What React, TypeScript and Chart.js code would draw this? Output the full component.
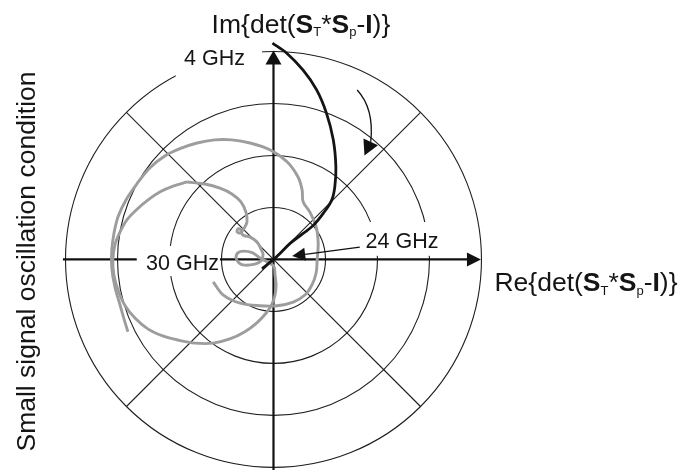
import React, { useEffect, useRef } from "react";
import { Chart, registerables } from "chart.js";

Chart.register(...registerables);

// Polar grid: rings of |det| and the diagonal guide lines
const RING_VALUES = [1, 2, 3, 4];
const SPOKE_ANGLES_DEG = [45, 135, 225, 315];

// det(S_T*S_p - I), 4 GHz down to just past 24 GHz
const BLACK_RE = [-0.02, 0.25, 0.57, 0.83, 1.02, 1.15, 1.2, 1.18, 1.12, 0.96, 0.77, 0.57, 0.32, 0.13, 0.0, -0.22];
const BLACK_IM = [4.16, 3.97, 3.64, 3.26, 2.81, 2.3, 1.78, 1.4, 1.14, 0.89, 0.66, 0.5, 0.31, 0.12, 0.0, -0.18];

// Grey trace, outer sweep
const GRAY_OUTER_RE = [
  -2.8, -2.88, -2.95, -3.05, -3.11, -3.11, -3.07, -2.99, -2.84, -2.63, -2.38, -2.09, -1.8, -1.47, -1.13,
  -0.8, -0.45, -0.07, 0.26, 0.47, 0.55, 0.57, 0.7, 0.82, 0.86, 0.84, 0.82, 0.74, 0.61, 0.38, 0.07, -0.26,
  -0.64, -0.97, -1.16,
];
const GRAY_OUTER_IM = [
  -1.39, -1.13, -0.88, -0.53, -0.16, 0.18, 0.49, 0.82, 1.14, 1.45, 1.76, 1.99, 2.13, 2.24, 2.3,
  2.3, 2.24, 2.11, 1.88, 1.59, 1.34, 1.11, 0.91, 0.63, 0.32, -0.01, -0.26, -0.49, -0.68, -0.82, -0.89, -0.89,
  -0.84, -0.68, -0.43,
];

// Grey trace, inner loop with the small curls near the origin
const GRAY_INNER_RE = [
  -1.66, -1.32, -1.03, -0.8, -0.63, -0.53, -0.51, -0.57, -0.64, -0.7, -0.68, -0.63, -0.59, -0.45, -0.32,
  -0.24, -0.2, -0.24, -0.36, -0.55, -0.66, -0.72, -0.68, -0.57, -0.41, -0.26, -0.11, 0.01, 0.03, 0.05,
  0.03, -0.03, -0.14, -0.32, -0.55, -0.84, -1.16, -1.51, -1.84, -2.13, -2.41, -2.66, -2.86, -2.99, -3.07,
  -3.09, -3.05, -2.95, -2.82, -2.64, -2.43, -2.18, -1.93, -1.66,
];
const GRAY_INNER_IM = [
  1.49, 1.45, 1.37, 1.26, 1.11, 0.91, 0.72, 0.59, 0.51, 0.53, 0.59, 0.57, 0.47, 0.43, 0.34,
  0.2, 0.09, -0.03, -0.09, -0.11, -0.07, 0.03, 0.13, 0.16, 0.13, 0.03, -0.05, -0.14, -0.3, -0.49,
  -0.68, -0.86, -1.03, -1.22, -1.39, -1.53, -1.61, -1.61, -1.55, -1.47, -1.34, -1.13, -0.88, -0.59, -0.3,
  -0.01, 0.28, 0.53, 0.76, 0.95, 1.13, 1.3, 1.41, 1.49,
];

// Text
const FREQ_LABELS = ["4 GHz", "24 GHz", "30 GHz"];
const SIDE_TITLE = "Small signal oscillation condition";
const IM_LABEL: [string, string][] = [
  ["Im{det(", "n"], ["S", "b"], ["T", "sub"], ["*", "n"], ["S", "b"], ["p", "sub"], ["-", "n"], ["I", "b"], [")}", "n"],
];
const RE_LABEL: [string, string][] = [
  ["Re{det(", "n"], ["S", "b"], ["T", "sub"], ["*", "n"], ["S", "b"], ["p", "sub"], ["-", "n"], ["I", "b"], [")}", "n"],
];

const FAMILY = '"Liberation Sans", Arial, Helvetica, sans-serif';

function drawRich(ctx: CanvasRenderingContext2D, parts: [string, string][], x: number, y: number, size: number) {
  let cx = x;
  for (const [t, s] of parts) {
    let dy = 0;
    if (s === "b") ctx.font = `bold ${size}px ${FAMILY}`;
    else if (s === "sub") {
      ctx.font = `${Math.round(size * 0.5)}px ${FAMILY}`;
      dy = size * 0.13;
    } else ctx.font = `${size}px ${FAMILY}`;
    ctx.fillText(t, cx, y + dy);
    cx += ctx.measureText(t).width;
  }
}

function arrowHead(ctx: CanvasRenderingContext2D, tipX: number, tipY: number, dirX: number, dirY: number, len: number, half: number) {
  const d = Math.hypot(dirX, dirY) || 1;
  const ux = dirX / d, uy = dirY / d;
  const bx = tipX - ux * len, by = tipY - uy * len;
  ctx.beginPath();
  ctx.moveTo(tipX, tipY);
  ctx.lineTo(bx - uy * half, by + ux * half);
  ctx.lineTo(bx + uy * half, by - ux * half);
  ctx.closePath();
  ctx.fill();
  return [bx, by];
}

const polarDecor = {
  id: "polarDecor",
  beforeDatasetsDraw(chart: any, _args: any, opts: any) {
    const { ctx } = chart;
    const xs = chart.scales.x, ys = chart.scales.y;
    const px = (v: number) => xs.getPixelForValue(v);
    const py = (v: number) => ys.getPixelForValue(v);
    const cx = px(0), cy = py(0);
    const ux = px(1) - cx, uy = cy - py(1);
    const rMax = Math.max(...RING_VALUES);

    ctx.save();
    ctx.strokeStyle = opts.gridColor;
    ctx.lineWidth = 1.1;
    for (const r of RING_VALUES) {
      ctx.beginPath();
      ctx.ellipse(cx, cy, r * ux, r * uy, 0, 0, Math.PI * 2);
      ctx.stroke();
    }
    for (const a of SPOKE_ANGLES_DEG) {
      const t = (a * Math.PI) / 180;
      ctx.beginPath();
      ctx.moveTo(cx, cy);
      ctx.lineTo(px(rMax * Math.cos(t)), py(rMax * Math.sin(t)));
      ctx.stroke();
    }

    // Re and Im axes with arrow heads
    ctx.strokeStyle = opts.axisColor;
    ctx.fillStyle = opts.axisColor;
    ctx.lineWidth = 2.2;
    const [reFrom, reTo] = opts.reAxis;
    const [imFrom, imTo] = opts.imAxis;
    const [hbx] = arrowHead(ctx, px(reTo), cy, 1, 0, 14, 7);
    ctx.beginPath();
    ctx.moveTo(px(reFrom), cy);
    ctx.lineTo(hbx + 1, cy);
    ctx.stroke();
    const [, vby] = arrowHead(ctx, cx, py(imTo), 0, -1, 14, 8);
    ctx.beginPath();
    ctx.moveTo(cx, py(imFrom));
    ctx.lineTo(cx, vby - 1);
    ctx.stroke();

    // white boxes behind the frequency labels
    ctx.fillStyle = "#ffffff";
    for (const b of opts.labelBoxes) {
      const x0 = px(b[0]), x1 = px(b[1]), y0 = py(b[2]), y1 = py(b[3]);
      ctx.fillRect(Math.min(x0, x1), Math.min(y0, y1), Math.abs(x1 - x0), Math.abs(y1 - y0));
    }

    ctx.fillStyle = opts.textColor;
    ctx.textBaseline = "alphabetic";
    ctx.textAlign = "left";
    ctx.font = `${opts.freqFontSize}px ${FAMILY}`;
    FREQ_LABELS.forEach((t, i) => {
      const [lx, ly] = opts.freqAnchors[i];
      ctx.fillText(t, px(lx), py(ly));
    });

    drawRich(ctx, IM_LABEL, px(opts.imLabel[0]), py(opts.imLabel[1]), opts.axisFontSize);
    drawRich(ctx, RE_LABEL, px(opts.reLabel[0]), py(opts.reLabel[1]), opts.axisFontSize);

    ctx.save();
    ctx.translate(px(opts.sideTitle[0]), py(opts.sideTitle[1]));
    ctx.rotate(-Math.PI / 2);
    ctx.textAlign = "center";
    ctx.font = `${opts.sideFontSize}px ${FAMILY}`;
    ctx.fillText(SIDE_TITLE, 0, 0);
    ctx.restore();

    ctx.restore();
  },
  afterDatasetsDraw(chart: any, _args: any, opts: any) {
    const { ctx } = chart;
    const xs = chart.scales.x, ys = chart.scales.y;
    const px = (v: number) => xs.getPixelForValue(v);
    const py = (v: number) => ys.getPixelForValue(v);
    ctx.save();
    ctx.strokeStyle = opts.axisColor;
    ctx.fillStyle = opts.axisColor;
    ctx.lineWidth = 1.3;

    // sweep-direction arrow
    const c = opts.sweepArrow;
    ctx.beginPath();
    ctx.moveTo(px(c.start[0]), py(c.start[1]));
    ctx.quadraticCurveTo(px(c.ctrl[0]), py(c.ctrl[1]), px(c.end[0]), py(c.end[1]));
    ctx.stroke();
    const tx = px(c.tip[0]), ty = py(c.tip[1]);
    const ex = px(c.end[0]), ey = py(c.end[1]);
    arrowHead(ctx, tx, ty, tx - ex, ty - ey, Math.hypot(tx - ex, ty - ey), 8);

    // pointer from the 24 GHz label
    const p = opts.pointer;
    const sx = px(p.from[0]), sy = py(p.from[1]);
    const qx = px(p.tip[0]), qy = py(p.tip[1]);
    const [bx, by] = arrowHead(ctx, qx, qy, qx - sx, qy - sy, 13, 6.5);
    ctx.beginPath();
    ctx.moveTo(sx, sy);
    ctx.lineTo(bx, by);
    ctx.stroke();
    ctx.restore();
  },
};

export default function App() {
  const canvasRef = useRef<HTMLCanvasElement | null>(null);

  useEffect(() => {
    if (!canvasRef.current) return;
    const toPoints = (re: number[], im: number[]) => re.map((x, i) => ({ x, y: im[i] }));
    const chart = new Chart(canvasRef.current, {
      type: "scatter",
      data: {
        datasets: [
          {
            label: "4–24 GHz",
            data: toPoints(BLACK_RE, BLACK_IM),
            showLine: true,
            borderColor: "#141414",
            borderWidth: 2.8,
            pointRadius: 0,
            tension: 0.35,
            clip: false,
          } as any,
          {
            label: "outer",
            data: toPoints(GRAY_OUTER_RE, GRAY_OUTER_IM),
            showLine: true,
            borderColor: "#9d9d9d",
            borderWidth: 2.9,
            pointRadius: 0,
            tension: 0.35,
            clip: false,
          },
          {
            label: "inner",
            data: toPoints(GRAY_INNER_RE, GRAY_INNER_IM),
            showLine: true,
            borderColor: "#9d9d9d",
            borderWidth: 2.9,
            pointRadius: 0,
            tension: 0.35,
            clip: false,
          },
        ],
      },
      options: {
        responsive: false,
        animation: false,
        devicePixelRatio: 1,
        events: [],
        layout: { padding: 0 },
        scales: {
          x: { type: "linear", min: -5.26, max: 7.78, display: false },
          y: { type: "linear", min: -4.05, max: 4.99, display: false },
        },
        plugins: {
          legend: { display: false },
          tooltip: { enabled: false },
          polarDecor: {
            gridColor: "#1e1e1e",
            axisColor: "#111111",
            textColor: "#151515",
            reAxis: [-4.05, 3.99],
            imAxis: [-4.1, 4.02],
            labelBoxes: [
              [-1.88, -0.22, 3.49, 4.14],
              [1.7, 3.24, 0.07, 0.72],
              [-2.63, -1.03, -0.32, 0.26],
            ],
            freqAnchors: [
              [-1.72, 3.74],
              [1.77, 0.22],
              [-2.45, -0.2],
            ],
            freqFontSize: 21.5,
            axisFontSize: 26.5,
            sideFontSize: 26.5,
            imLabel: [-1.19, 4.36],
            reLabel: [4.25, -0.61],
            sideTitle: [-4.58, -0.04],
            sweepArrow: { start: [1.61, 3.26], ctrl: [1.94, 2.9], end: [1.87, 2.26], tip: [1.75, 2.0] },
            pointer: { from: [1.66, 0.235], tip: [0.36, 0.067] },
          },
        } as any,
      },
      plugins: [polarDecor],
    });
    return () => chart.destroy();
  }, []);

  return (
    <div style={{ position: "absolute", left: 0, top: 0, width: 678, height: 470, background: "#ffffff" }}>
      <canvas ref={canvasRef} width={678} height={470} style={{ display: "block" }} />
    </div>
  );
}
